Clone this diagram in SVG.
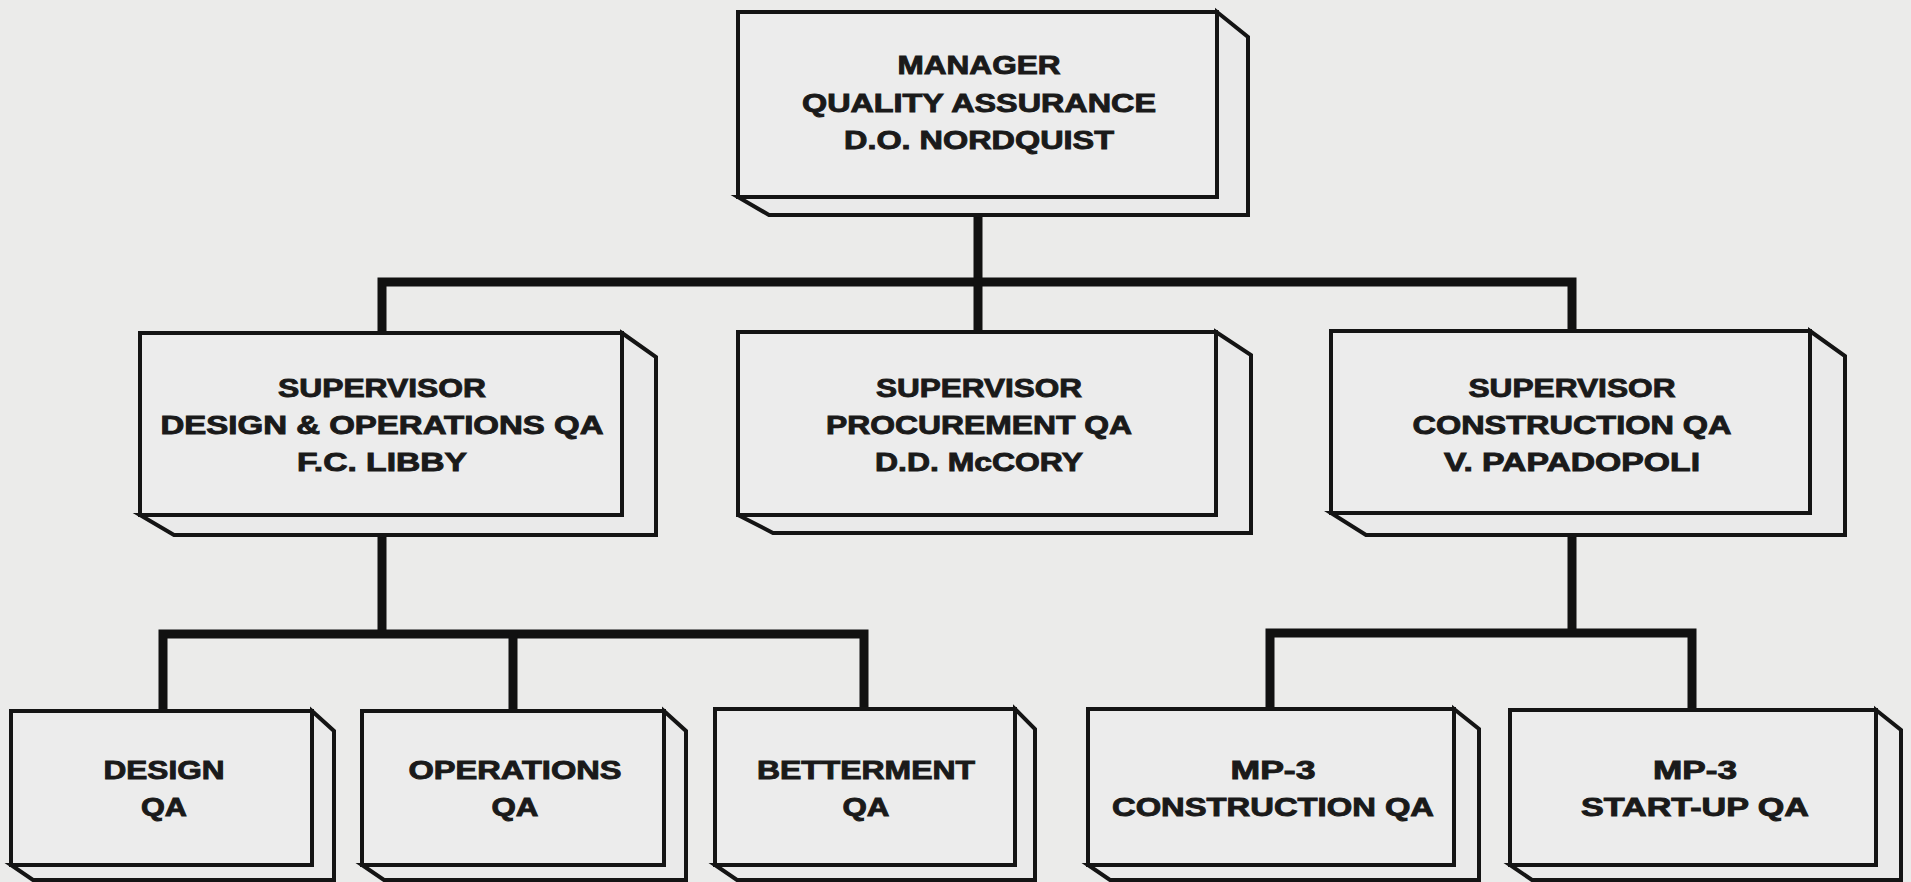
<svg xmlns="http://www.w3.org/2000/svg" width="1911" height="882" viewBox="0 0 1911 882">
  <style>
    .face { fill: #ececec; stroke: #141414; stroke-width: 4; stroke-linejoin: miter; }
    .side { fill: #eaeaea; stroke: #141414; stroke-width: 4; stroke-linejoin: miter; }
    .link { fill: none; stroke: #111; stroke-width: 9; stroke-linejoin: miter; stroke-linecap: butt; }
    .lbl { font-family: "Liberation Sans", Arial, sans-serif; font-weight: bold; font-size: 25px; fill: #1a1a1a; text-anchor: middle; stroke: #1a1a1a; stroke-width: 0.9; }
  </style>
  <rect x="0" y="0" width="1911" height="882" fill="#ebebea"/>

  <!-- reporting lines -->
  <g id="connectors">
    <path class="link" d="M978 197 V282"/>
    <path class="link" d="M382 333 V282 H1572 V331"/>
    <path class="link" d="M978 282 V332"/>
    <path class="link" d="M382 515 V634"/>
    <path class="link" d="M163 711 V634 H864 V709"/>
    <path class="link" d="M513 634 V711"/>
    <path class="link" d="M1572 513 V633"/>
    <path class="link" d="M1270 709 V633 H1692 V710"/>
  </g>

  <!-- top level -->
  <g id="manager-qa">
    <polygon class="side" points="1217,12 1248,37 1248,215 769,215 738,197 1217,197"/>
    <rect class="face" x="738" y="12" width="479" height="185"/>
    <text class="lbl" x="979" y="74" textLength="163" lengthAdjust="spacingAndGlyphs">MANAGER</text>
    <text class="lbl" x="979" y="112" textLength="354" lengthAdjust="spacingAndGlyphs">QUALITY ASSURANCE</text>
    <text class="lbl" x="979" y="149" textLength="270" lengthAdjust="spacingAndGlyphs">D.O. NORDQUIST</text>
  </g>

  <!-- supervisors -->
  <g id="supervisor-design-ops">
    <polygon class="side" points="622,333 656,357 656,535 174,535 140,515 622,515"/>
    <rect class="face" x="140" y="333" width="482" height="182"/>
    <text class="lbl" x="382" y="397" textLength="208" lengthAdjust="spacingAndGlyphs">SUPERVISOR</text>
    <text class="lbl" x="382" y="434" textLength="443" lengthAdjust="spacingAndGlyphs">DESIGN &amp; OPERATIONS QA</text>
    <text class="lbl" x="382" y="471" textLength="170" lengthAdjust="spacingAndGlyphs">F.C. LIBBY</text>
  </g>

  <g id="supervisor-procurement">
    <polygon class="side" points="1216,332 1251,355 1251,533 773,533 738,515 1216,515"/>
    <rect class="face" x="738" y="332" width="478" height="183"/>
    <text class="lbl" x="979" y="397" textLength="206" lengthAdjust="spacingAndGlyphs">SUPERVISOR</text>
    <text class="lbl" x="979" y="434" textLength="306" lengthAdjust="spacingAndGlyphs">PROCUREMENT QA</text>
    <text class="lbl" x="979" y="471" textLength="208" lengthAdjust="spacingAndGlyphs">D.D. McCORY</text>
  </g>

  <g id="supervisor-construction">
    <polygon class="side" points="1810,331 1845,356 1845,535 1366,535 1331,513 1810,513"/>
    <rect class="face" x="1331" y="331" width="479" height="182"/>
    <text class="lbl" x="1572" y="397" textLength="207" lengthAdjust="spacingAndGlyphs">SUPERVISOR</text>
    <text class="lbl" x="1572" y="434" textLength="319" lengthAdjust="spacingAndGlyphs">CONSTRUCTION QA</text>
    <text class="lbl" x="1572" y="471" textLength="256" lengthAdjust="spacingAndGlyphs">V. PAPADOPOLI</text>
  </g>

  <!-- units -->
  <g id="design-qa">
    <polygon class="side" points="312,711 334,731 334,880 33,880 11,865 312,865"/>
    <rect class="face" x="11" y="711" width="301" height="154"/>
    <text class="lbl" x="164" y="779" textLength="121" lengthAdjust="spacingAndGlyphs">DESIGN</text>
    <text class="lbl" x="164" y="816" textLength="46" lengthAdjust="spacingAndGlyphs">QA</text>
  </g>

  <g id="operations-qa">
    <polygon class="side" points="664,711 686,731 686,880 384,880 362,865 664,865"/>
    <rect class="face" x="362" y="711" width="302" height="154"/>
    <text class="lbl" x="515" y="779" textLength="213" lengthAdjust="spacingAndGlyphs">OPERATIONS</text>
    <text class="lbl" x="515" y="816" textLength="47" lengthAdjust="spacingAndGlyphs">QA</text>
  </g>

  <g id="betterment-qa">
    <polygon class="side" points="1015,709 1035,729 1035,880 737,880 715,865 1015,865"/>
    <rect class="face" x="715" y="709" width="300" height="156"/>
    <text class="lbl" x="866" y="779" textLength="218" lengthAdjust="spacingAndGlyphs">BETTERMENT</text>
    <text class="lbl" x="866" y="816" textLength="47" lengthAdjust="spacingAndGlyphs">QA</text>
  </g>

  <g id="mp3-construction-qa">
    <polygon class="side" points="1454,709 1479,729 1479,880 1110,880 1088,865 1454,865"/>
    <rect class="face" x="1088" y="709" width="366" height="156"/>
    <text class="lbl" x="1273" y="779" textLength="85" lengthAdjust="spacingAndGlyphs">MP-3</text>
    <text class="lbl" x="1273" y="816" textLength="322" lengthAdjust="spacingAndGlyphs">CONSTRUCTION QA</text>
  </g>

  <g id="mp3-startup-qa">
    <polygon class="side" points="1876,710 1901,730 1901,880 1532,880 1510,865 1876,865"/>
    <rect class="face" x="1510" y="710" width="366" height="155"/>
    <text class="lbl" x="1695" y="779" textLength="84" lengthAdjust="spacingAndGlyphs">MP-3</text>
    <text class="lbl" x="1695" y="816" textLength="228" lengthAdjust="spacingAndGlyphs">START-UP QA</text>
  </g>
</svg>
